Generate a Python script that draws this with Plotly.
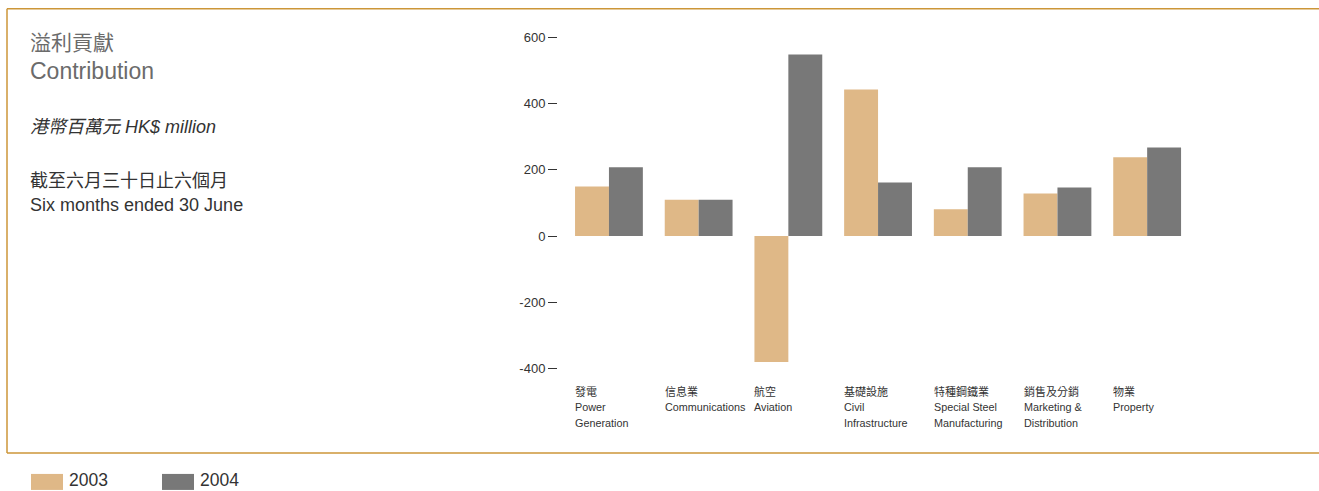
import plotly.graph_objects as go

# Segment contribution, HK$ million, six months ended 30 June
categories_zh = ["發電", "信息業", "航空", "基礎設施", "特種鋼鐵業", "銷售及分銷", "物業"]
categories_en = [["Power", "Generation"], ["Communications"], ["Aviation"], ["Civil", "Infrastructure"],
                 ["Special Steel", "Manufacturing"], ["Marketing &", "Distribution"], ["Property"]]
values_2003 = [150, 110, -381, 443, 81, 129, 238]
values_2004 = [208, 110, 549, 162, 208, 147, 268]
series_names = ["2003", "2004"]
y_ticks = [-400, -200, 0, 200, 400, 600]

COLOR_2003 = "#DFB887"
COLOR_2004 = "#787878"
FRAME = "#CC9638"
FONT = "Liberation Sans, Noto Sans CJK TC, sans-serif"

W, H = 1319, 491
L, R, T, B = 558, 1192, 30.7, 374.6
X0, X1 = -0.568, 6.5
Y0, Y1 = -420, 620


def px2x(px):
    return (px - L) / (R - L)


def px2y(py):
    return (B - py) / (B - T)


idx = list(range(len(categories_zh)))

fig = go.Figure()
fig.add_trace(go.Bar(x=idx, y=values_2003, name=series_names[0], marker_color=COLOR_2003,
                     marker_line_width=0))
fig.add_trace(go.Bar(x=idx, y=values_2004, name=series_names[1], marker_color=COLOR_2004,
                     marker_line_width=0))

bargap = 0.244
half_group = (1 - bargap) / 2
label_shift = 2 / (R - L) * (X1 - X0)  # compensate annotation padding

annotations = []
# Category labels, left-aligned under each bar group, one line per annotation
for i, (zh, en) in enumerate(zip(categories_zh, categories_en)):
    lines = [(zh, 11)] + [(t, 10.8) for t in en]
    for k, (text, size) in enumerate(lines):
        annotations.append(dict(
            x=i - half_group - label_shift, xref="x", xanchor="left",
            y=px2y(391 + 16 * k), yref="paper", yanchor="middle",
            text=text, showarrow=False, align="left",
            font=dict(family=FONT, size=size, color="#333333"),
        ))

# Heading block on the left
heading = [
    ("溢利貢獻", 42, 21, "#6B6B6B", False),
    ("Contribution", 71, 23, "#6B6B6B", False),
    ("港幣百萬元 HK$ million", 127, 18, "#333333", True),
    ("截至六月三十日止六個月", 181, 18, "#333333", False),
    ("Six months ended 30 June", 205, 18, "#333333", False),
]
for text, py, size, color, italic in heading:
    annotations.append(dict(
        x=px2x(28), xref="paper", xanchor="left",
        y=px2y(py), yref="paper", yanchor="middle",
        text=f"<i>{text}</i>" if italic else text, showarrow=False,
        font=dict(family=FONT, size=size, color=color),
    ))

shapes = [
    # outer frame, open on the right
    dict(type="line", xref="paper", yref="paper", x0=px2x(7), x1=px2x(1319), y0=px2y(8.5), y1=px2y(8.5),
         line=dict(color=FRAME, width=1.5)),
    dict(type="line", xref="paper", yref="paper", x0=px2x(7), x1=px2x(1319), y0=px2y(452.5), y1=px2y(452.5),
         line=dict(color=FRAME, width=1.5)),
    dict(type="line", xref="paper", yref="paper", x0=px2x(7), x1=px2x(7), y0=px2y(8.5), y1=px2y(452.5),
         line=dict(color=FRAME, width=1.5)),
]

# Legend swatches below the frame
for name, color, sx in zip(series_names, [COLOR_2003, COLOR_2004], [31, 162]):
    shapes.append(dict(type="rect", xref="paper", yref="paper",
                       x0=px2x(sx), x1=px2x(sx + 32), y0=px2y(473.5), y1=px2y(489.5),
                       fillcolor=color, line=dict(width=0)))
    annotations.append(dict(
        x=px2x(sx + 37), xref="paper", xanchor="left",
        y=px2y(491), yref="paper", yanchor="bottom",
        text=name, showarrow=False, borderpad=0,
        font=dict(family=FONT, size=17.5, color="#333333"),
    ))

fig.update_layout(
    width=W, height=H,
    margin=dict(l=L, r=W - R, t=T, b=H - B, pad=0),
    paper_bgcolor="white", plot_bgcolor="white",
    barmode="group", bargap=bargap, bargroupgap=0,
    showlegend=False,
    annotations=annotations, shapes=shapes,
    xaxis=dict(range=[X0, X1], showticklabels=False, showgrid=False, zeroline=False,
               showline=False, ticks=""),
    yaxis=dict(range=[Y0, Y1], tickvals=y_ticks, ticktext=[str(v) for v in y_ticks],
               ticks="outside", ticklen=9, tickwidth=1, tickcolor="#333333",
               showgrid=False, zeroline=False, showline=False,
               tickfont=dict(family=FONT, size=13, color="#333333")),
)

fig.write_html("out.html")
